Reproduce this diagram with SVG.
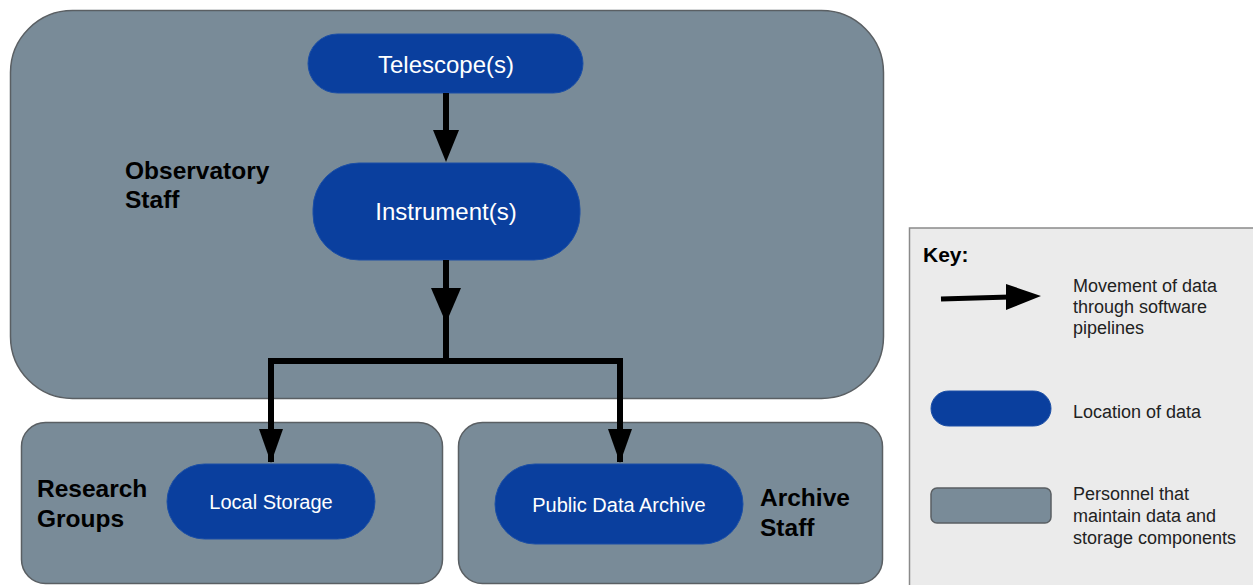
<svg xmlns="http://www.w3.org/2000/svg" width="1253" height="585" viewBox="0 0 1253 585">
<style>
.grp{fill:#798b98;stroke:#5a5f63;stroke-width:1.5}
.pill{fill:#0a3f9e;stroke:#1c4fa6;stroke-width:1}
.wt{fill:#ffffff;font-family:"Liberation Sans",Arial,sans-serif;text-anchor:middle}
.bt{fill:#000;font-family:"Liberation Sans",Arial,sans-serif;font-weight:bold;font-size:24.5px}
.kt{fill:#222;font-family:"Liberation Sans",Arial,sans-serif;font-size:18px}
.ln{stroke:#000;stroke-width:6;fill:none}
.ah{fill:#000}
</style>
<rect width="1253" height="585" fill="#ffffff"/>
<g id="observatory-staff">
<rect class="grp" x="10.5" y="10.5" width="873" height="388" rx="62"/>
<text class="bt" x="125" y="179">Observatory</text>
<text class="bt" x="125" y="208">Staff</text>
</g>
<g id="research-groups">
<rect class="grp" x="21.5" y="422.5" width="421" height="161" rx="24"/>
<text class="bt" x="37" y="497">Research</text>
<text class="bt" x="37" y="527">Groups</text>
</g>
<g id="archive-staff">
<rect class="grp" x="458.5" y="422.5" width="424" height="161" rx="24"/>
<text class="bt" x="760" y="506">Archive</text>
<text class="bt" x="760" y="536">Staff</text>
</g>
<g id="telescope">
<rect class="pill" x="308" y="34" width="275" height="59" rx="29.5"/>
<text class="wt" x="446" y="73" font-size="24">Telescope(s)</text>
</g>
<g id="instrument">
<rect class="pill" x="313" y="163" width="267" height="97" rx="46"/>
<text class="wt" x="446" y="220" font-size="24">Instrument(s)</text>
</g>
<g id="local-storage">
<rect class="pill" x="167" y="464" width="208" height="75" rx="37.5"/>
<text class="wt" x="271" y="509" font-size="20">Local Storage</text>
</g>
<g id="public-data-archive">
<rect class="pill" x="495" y="464" width="248" height="80" rx="40"/>
<text class="wt" x="619" y="512" font-size="20">Public Data Archive</text>
</g>
<g id="connectors">
<line class="ln" x1="446" y1="93" x2="446" y2="132"/>
<polygon class="ah" points="433,130 459,130 446,162"/>
<line class="ln" x1="446" y1="260" x2="446" y2="364"/>
<polygon class="ah" points="431,288 461,288 446,323"/>
<polyline class="ln" points="271,462 271,361 620,361 620,462" stroke-linejoin="miter"/>
<polygon class="ah" points="259,429 283,429 271,463"/>
<polygon class="ah" points="608,429 632,429 620,463"/>
</g>
<g id="key">
<rect x="909.5" y="228" width="350" height="370" fill="#ebebeb" stroke="#8a8a8a" stroke-width="1.5"/>
<text x="923" y="262" font-family="'Liberation Sans',Arial,sans-serif" font-weight="bold" font-size="21">Key:</text>
<line x1="941" y1="299" x2="1010" y2="297" stroke="#000" stroke-width="5"/>
<polygon class="ah" points="1006,284 1041,296 1006,310"/>
<text class="kt" x="1073" y="292">Movement of data</text>
<text class="kt" x="1073" y="313">through software</text>
<text class="kt" x="1073" y="334">pipelines</text>
<rect class="pill" x="931" y="391" width="120" height="35" rx="17.5"/>
<text class="kt" x="1073" y="418">Location of data</text>
<rect class="grp" x="931" y="488" width="120" height="35" rx="6"/>
<text class="kt" x="1073" y="500">Personnel that</text>
<text class="kt" x="1073" y="522">maintain data and</text>
<text class="kt" x="1073" y="544">storage components</text>
</g>
</svg>
